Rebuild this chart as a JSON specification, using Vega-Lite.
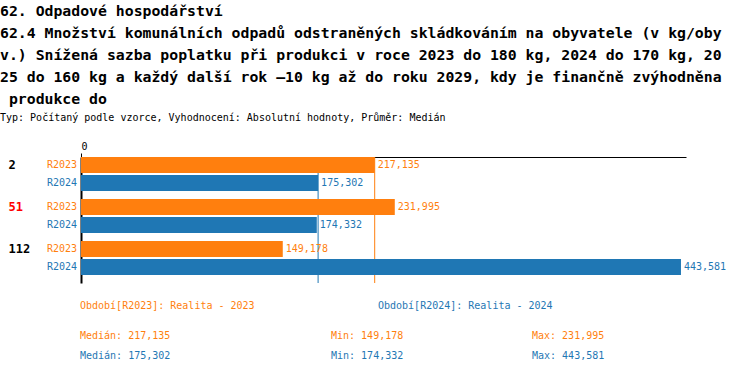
{
  "$schema": "https://vega.github.io/schema/vega-lite/v6.json",
  "padding": {"left": 0, "top": 4, "right": 0, "bottom": 0},
  "background": "white",
  "datasets": {
    "bars": [
      {"group": "2", "series": "R2023", "value": 217.135},
      {"group": "2", "series": "R2024", "value": 175.302},
      {"group": "51", "series": "R2023", "value": 231.995},
      {"group": "51", "series": "R2024", "value": 174.332},
      {"group": "112", "series": "R2023", "value": 149.178},
      {"group": "112", "series": "R2024", "value": 443.581}
    ],
    "legend": [
      {"row": "legend", "series": "R2023", "label": "Období[R2023]: Realita - 2023"},
      {"row": "legend", "series": "R2024", "label": "Období[R2024]: Realita - 2024"}
    ]
  },
  "title": {
    "text": [
      "62. Odpadové hospodářství",
      "62.4 Množství komunálních odpadů odstraněných skládkováním na obyvatele (v kg/oby",
      "v.) Snížená sazba poplatku při produkci v roce 2023 do 180 kg, 2024 do 170 kg, 20",
      "25 do 160 kg a každý další rok –10 kg až do roku 2029, kdy je finančně zvýhodněna",
      "\u200b\u00a0produkce do"
    ],
    "subtitle": "Typ: Počítaný podle vzorce, Vyhodnocení: Absolutní hodnoty, Průměr: Medián",
    "anchor": "start",
    "dx": -8,
    "font": "DejaVu Sans Mono",
    "fontSize": 14.8,
    "fontWeight": "bold",
    "lineHeight": 22,
    "color": "#000000",
    "subtitleFont": "DejaVu Sans Mono",
    "subtitleFontSize": 10,
    "subtitleColor": "#000000",
    "subtitlePadding": 6,
    "offset": 18
  },
  "spacing": 0,
  "vconcat": [
    {
      "width": 605,
      "height": 126,
      "layer": [
        {
          "data": {"name": "bars"},
          "mark": {"type": "rule", "strokeWidth": 1},
          "encoding": {
            "x": {
              "aggregate": "median", "field": "value", "type": "quantitative",
              "scale": {"domain": [0, 447.3], "nice": false},
              "axis": {
                "orient": "top", "values": [0], "title": null, "grid": false,
                "domainColor": "#000000", "domainWidth": 1, "tickColor": "#000000", "tickSize": 4,
                "labelFont": "DejaVu Sans Mono", "labelFontSize": 10, "labelColor": "#000000", "labelPadding": 2
              }
            },
            "color": {"field": "series", "type": "nominal"}
          }
        },
        {
          "data": {"name": "bars"},
          "encoding": {
            "y": {
              "field": "group", "type": "nominal", "sort": ["2", "51", "112"],
              "scale": {"paddingInner": 0.19, "paddingOuter": 0.095, "align": 0},
              "axis": {
                "title": null, "orient": "left", "domainColor": "#000000", "domainWidth": 2,
                "ticks": false, "labelFont": "DejaVu Sans Mono", "labelFontSize": 12,
                "labelFontWeight": "bold", "labelAlign": "left", "labelPadding": 73,
                "labelOffset": -9, "labelBaseline": "middle",
                "labelColor": {"condition": {"test": "datum.value == '51'", "value": "#ff0000"}, "value": "#000000"}
              }
            },
            "yOffset": {"field": "series", "type": "nominal", "sort": ["R2023", "R2024"], "scale": {"paddingInner": 0.11, "paddingOuter": 0}}
          },
          "layer": [
            {
              "mark": {"type": "bar"},
              "encoding": {
                "x": {
                  "field": "value", "type": "quantitative",
                  "scale": {"domain": [0, 447.3], "nice": false},
                  "axis": {
                    "orient": "top", "values": [0], "title": null, "grid": false,
                    "domainColor": "#000000", "domainWidth": 1, "tickColor": "#000000", "tickSize": 4,
                    "labelFont": "DejaVu Sans Mono", "labelFontSize": 10, "labelColor": "#000000", "labelPadding": 2
                  }
                },
                "color": {"field": "series", "type": "nominal", "scale": {"domain": ["R2023", "R2024"], "range": ["#ff7f0e", "#1f77b4"]}, "legend": null}
              }
            },
            {
              "mark": {"type": "text", "align": "right", "baseline": "middle", "dx": -4, "font": "DejaVu Sans Mono", "fontSize": 10},
              "encoding": {
                "x": {"datum": 0, "type": "quantitative"},
                "text": {"field": "series"},
                "color": {"field": "series", "type": "nominal"}
              }
            },
            {
              "mark": {"type": "text", "align": "left", "baseline": "middle", "dx": 3, "font": "DejaVu Sans Mono", "fontSize": 10},
              "encoding": {
                "x": {"field": "value", "type": "quantitative"},
                "text": {"field": "value", "type": "quantitative", "format": ".3f"},
                "color": {"field": "series", "type": "nominal"}
              }
            }
          ]
        }
      ]
    },
    {
      "width": 298,
      "height": 44,
      "data": {"name": "legend"},
      "mark": {"type": "text", "align": "left", "baseline": "middle", "dx": -1, "font": "DejaVu Sans Mono", "fontSize": 10},
      "encoding": {
        "x": {"field": "series", "type": "nominal", "scale": {"type": "point", "padding": 0}, "axis": null},
        "y": {"field": "row", "type": "nominal", "scale": {"type": "point"}, "axis": null},
        "text": {"field": "label"},
        "color": {"field": "series", "type": "nominal"}
      }
    },
    {
      "spacing": 0,
      "hconcat": [
        {
          "width": 250,
          "height": 36,
          "data": {"name": "bars"},
          "transform": [
            {"aggregate": [{"op": "median", "field": "value", "as": "med"}], "groupby": ["series"]},
            {"calculate": "'Medián: ' + format(datum.med, '.3f')", "as": "medLabel"}
          ],
          "mark": {"type": "text", "align": "left", "baseline": "middle", "dx": -1, "font": "DejaVu Sans Mono", "fontSize": 10},
          "encoding": {
            "x": {"datum": "Medián", "type": "nominal", "scale": {"type": "point", "padding": 0, "align": 0}, "axis": null},
            "y": {"field": "series", "type": "nominal", "scale": {"type": "point", "domain": ["R2023", "R2024"], "padding": 0.4}, "axis": null},
            "text": {"field": "medLabel"},
            "color": {"field": "series", "type": "nominal"}
          }
        },
        {
          "width": 200,
          "height": 36,
          "data": {"name": "bars"},
          "transform": [
            {"aggregate": [{"op": "min", "field": "value", "as": "mn"}], "groupby": ["series"]},
            {"calculate": "'Min: ' + format(datum.mn, '.3f')", "as": "minLabel"}
          ],
          "mark": {"type": "text", "align": "left", "baseline": "middle", "dx": -1, "font": "DejaVu Sans Mono", "fontSize": 10},
          "encoding": {
            "x": {"datum": "Min", "type": "nominal", "scale": {"type": "point", "padding": 0, "align": 0}, "axis": null},
            "y": {"field": "series", "type": "nominal", "scale": {"type": "point", "domain": ["R2023", "R2024"], "padding": 0.4}, "axis": null},
            "text": {"field": "minLabel"},
            "color": {"field": "series", "type": "nominal"}
          }
        },
        {
          "width": 155,
          "height": 36,
          "data": {"name": "bars"},
          "transform": [
            {"aggregate": [{"op": "max", "field": "value", "as": "mx"}], "groupby": ["series"]},
            {"calculate": "'Max: ' + format(datum.mx, '.3f')", "as": "maxLabel"}
          ],
          "mark": {"type": "text", "align": "left", "baseline": "middle", "dx": -1, "font": "DejaVu Sans Mono", "fontSize": 10},
          "encoding": {
            "x": {"datum": "Max", "type": "nominal", "scale": {"type": "point", "padding": 0, "align": 0}, "axis": null},
            "y": {"field": "series", "type": "nominal", "scale": {"type": "point", "domain": ["R2023", "R2024"], "padding": 0.4}, "axis": null},
            "text": {"field": "maxLabel"},
            "color": {"field": "series", "type": "nominal"}
          }
        }
      ],
      "resolve": {"scale": {"x": "independent", "y": "independent"}}
    }
  ],
  "resolve": {"scale": {"x": "independent", "y": "independent"}},
  "config": {
    "view": {"stroke": null},
    "font": "DejaVu Sans Mono",
    "locale": {"number": {"decimal": ",", "thousands": " ", "grouping": [3], "currency": ["", ""]}}
  }
}
